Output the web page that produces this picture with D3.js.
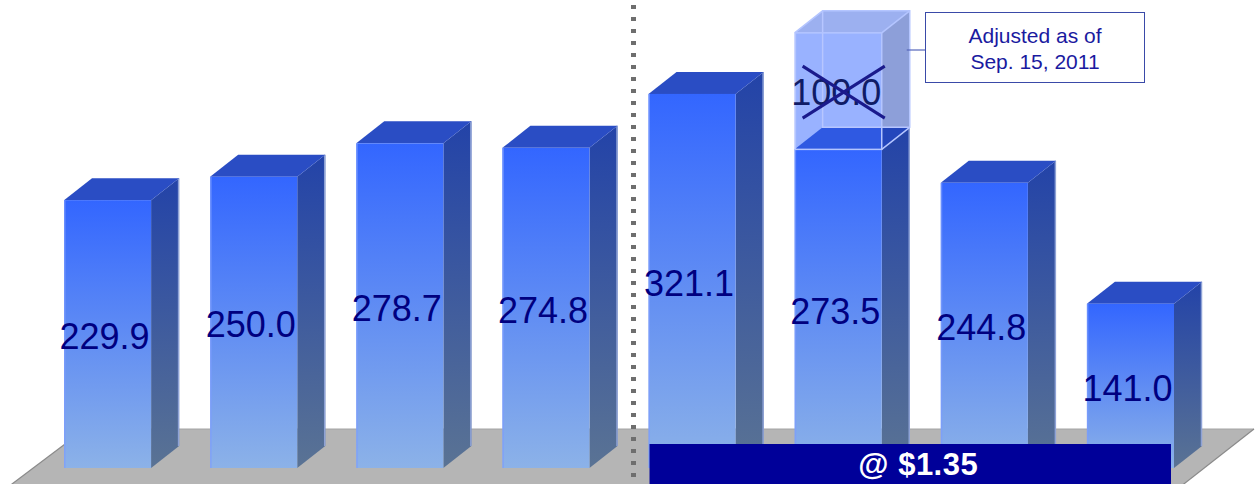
<!DOCTYPE html>
<html>
<head>
<meta charset="utf-8">
<script src="https://cdn.jsdelivr.net/npm/d3@7"></script>
<style>
  html, body { margin: 0; padding: 0; background: #ffffff; }
  svg { display: block; }
  text { font-family: "Liberation Sans", Arial, Helvetica, sans-serif; }
</style>
</head>
<body>
<svg id="chart" width="1256" height="484"></svg>
<script>
// Bar values (millions), one per period
const barKeys = ["b1", "b2", "b3", "b4", "b5", "b6", "b7", "b8"];
const values = [229.9, 250.0, 278.7, 274.8, 321.1, 273.5, 244.8, 141.0];

// Withdrawn amount stacked on top of one bar
const adjustedKey = "b6";
const adjustedValue = 100.0;
const noteLines = ["Adjusted as of", "Sep. 15, 2011"];

// Banner under the right-hand group of bars
const bannerKeys = ["b5", "b8"];
const bannerText = "@ $1.35";

// The dotted divider sits between these two bars
const dividerBetween = ["b4", "b5"];

const W = 1256, H = 484;
const baseY = 468;          // bottom of the bar front faces
const DX = 28, DY = 22;     // 3-D depth offset

const svg = d3.select("#chart");

const x = d3.scaleBand()
  .domain(barKeys)
  .range([64, 1174])
  .paddingInner(0.404)
  .paddingOuter(0);

const y = d3.scaleLinear()
  .domain([0, 400])
  .range([baseY, baseY - 466]);

const bw = x.bandwidth();
const pts = a => a.map(p => p.join(",")).join(" ");

// ---- gradients ----
const defs = svg.append("defs");
const gFront = defs.append("linearGradient").attr("id", "gFront")
  .attr("x1", 0).attr("y1", 0).attr("x2", 0).attr("y2", 1);
gFront.append("stop").attr("offset", 0).attr("stop-color", "#3366ff");
gFront.append("stop").attr("offset", 1).attr("stop-color", "#8cb2e8");

const gSide = defs.append("linearGradient").attr("id", "gSide")
  .attr("x1", 0).attr("y1", 0).attr("x2", 0).attr("y2", 1);
gSide.append("stop").attr("offset", 0).attr("stop-color", "#2343a8");
gSide.append("stop").attr("offset", 1).attr("stop-color", "#5a7394");

// ---- floor ----
svg.append("polygon")
  .attr("points", pts([[85, 429], [1254, 429], [1180, 487], [8, 487]]))
  .attr("fill", "#b5b5b5");
svg.append("line").attr("x1", 85).attr("y1", 429).attr("x2", 1254).attr("y2", 429)
  .attr("stroke", "#a4a4a4").attr("stroke-width", 1);
svg.append("line").attr("x1", 85).attr("y1", 429).attr("x2", 8).attr("y2", 487)
  .attr("stroke", "#8a8a8a").attr("stroke-width", 1.2);
svg.append("line").attr("x1", 1254).attr("y1", 429).attr("x2", 1180).attr("y2", 487)
  .attr("stroke", "#8a8a8a").attr("stroke-width", 1.2);

// ---- bars ----
const data = barKeys.map((k, i) => ({ key: k, value: values[i] }));

const bars = svg.append("g").selectAll("g").data(data).join("g");

bars.append("polygon")  // side face
  .attr("points", d => {
    const x1 = x(d.key) + bw, t = y(d.value);
    return pts([[x1, t], [x1 + DX, t - DY], [x1 + DX, baseY - DY], [x1, baseY]]);
  })
  .attr("fill", "url(#gSide)");

bars.append("line")     // light rim on the side face
  .attr("x1", d => x(d.key) + bw + DX - 0.5).attr("x2", d => x(d.key) + bw + DX - 0.5)
  .attr("y1", d => y(d.value) - DY).attr("y2", baseY - DY)
  .attr("stroke", "#8ea2d6").attr("stroke-width", 1.5);

bars.append("polygon")  // top face
  .attr("points", d => {
    const x0 = x(d.key), x1 = x0 + bw, t = y(d.value);
    return pts([[x0, t], [x0 + DX, t - DY], [x1 + DX, t - DY], [x1, t]]);
  })
  .attr("fill", "#2a4dc4");

bars.append("rect")     // front face
  .attr("x", d => x(d.key))
  .attr("y", d => y(d.value))
  .attr("width", bw)
  .attr("height", d => baseY - y(d.value))
  .attr("fill", "url(#gFront)");

bars.append("line")     // light left edge of the front face
  .attr("x1", d => x(d.key) + 0.75).attr("x2", d => x(d.key) + 0.75)
  .attr("y1", d => y(d.value)).attr("y2", baseY)
  .attr("stroke", "#7d9dff").attr("stroke-width", 1.5).attr("opacity", 0.7);

// ---- value labels, centred on each front face ----
bars.append("text")
  .attr("x", d => x(d.key) + bw / 2 - 3)
  .attr("y", d => (y(d.value) + baseY) / 2 + 15)
  .attr("text-anchor", "middle")
  .attr("font-size", 36)
  .attr("fill", "#000080")
  .text(d => d.value.toFixed(1));

// ---- withdrawn portion: see-through box on top of the bar ----
const gx0 = x(adjustedKey), gx1 = gx0 + bw;
const base6 = values[barKeys.indexOf(adjustedKey)];
const gTop = y(base6 + adjustedValue), gBot = y(base6);
const ghost = svg.append("g");

ghost.append("rect")
  .attr("x", gx0).attr("y", gTop).attr("width", bw).attr("height", gBot - gTop)
  .attr("fill", "#3366ff").attr("fill-opacity", 0.5);
ghost.append("polygon")
  .attr("points", pts([[gx1, gTop], [gx1 + DX, gTop - DY], [gx1 + DX, gBot - DY], [gx1, gBot]]))
  .attr("fill", "#1b3fb3").attr("fill-opacity", 0.5);
ghost.append("polygon")
  .attr("points", pts([[gx0, gTop], [gx0 + DX, gTop - DY], [gx1 + DX, gTop - DY], [gx1, gTop]]))
  .attr("fill", "#3961e1").attr("fill-opacity", 0.5);

// visible back edges of the box
ghost.append("polyline")
  .attr("points", pts([[gx0 + DX, gTop - DY], [gx0 + DX, gBot - DY], [gx1 + DX, gBot - DY]]))
  .attr("fill", "none").attr("stroke", "#b7c6ff").attr("stroke-width", 1.5);
// front edges
ghost.append("rect")
  .attr("x", gx0 + 0.75).attr("y", gTop).attr("width", bw - 0.75).attr("height", gBot - gTop)
  .attr("fill", "none").attr("stroke", "#b4c5ff").attr("stroke-width", 1.5);
ghost.append("polyline")
  .attr("points", pts([[gx0, gTop], [gx0 + DX, gTop - DY], [gx1 + DX, gTop - DY], [gx1 + DX, gBot - DY], [gx1, gBot]]))
  .attr("fill", "none").attr("stroke", "#b4c5ff").attr("stroke-width", 1.5);
ghost.append("line")
  .attr("x1", gx1).attr("y1", gTop).attr("x2", gx1 + DX).attr("y2", gTop - DY)
  .attr("stroke", "#b4c5ff").attr("stroke-width", 1.5);

const gMid = (gTop + gBot) / 2;
ghost.append("text")
  .attr("x", gx0 + bw / 2 - 2)
  .attr("y", gMid + 14)
  .attr("text-anchor", "middle")
  .attr("font-size", 36)
  .attr("fill", "#101c66")
  .text(adjustedValue.toFixed(1));

// cross-out
ghost.append("line")
  .attr("x1", gx0 + 8).attr("y1", gMid - 25).attr("x2", gx1 + 3).attr("y2", gMid + 27)
  .attr("stroke", "#1a1a8c").attr("stroke-width", 3);
ghost.append("line")
  .attr("x1", gx0 + 8).attr("y1", gMid + 27).attr("x2", gx1 + 3).attr("y2", gMid - 25)
  .attr("stroke", "#1a1a8c").attr("stroke-width", 3);

// ---- note box with connector ----
svg.append("line")
  .attr("x1", gx1 + DX - 3).attr("y1", 50).attr("x2", 925).attr("y2", 50)
  .attr("stroke", "#5566bb").attr("stroke-width", 1.2);
svg.append("rect")
  .attr("x", 925.5).attr("y", 12.5).attr("width", 219).attr("height", 70)
  .attr("fill", "#ffffff").attr("stroke", "#3a4aa8").attr("stroke-width", 1);
svg.append("g").selectAll("text").data(noteLines).join("text")
  .attr("x", 1035)
  .attr("y", (d, i) => 43 + i * 26)
  .attr("text-anchor", "middle")
  .attr("font-size", 21)
  .attr("fill", "#1a1aa0")
  .text(d => d);

// ---- banner ----
const bx0 = x(bannerKeys[0]) + 1, bx1 = x(bannerKeys[1]) + bw - 3;
svg.append("rect")
  .attr("x", bx0).attr("y", 444).attr("width", bx1 - bx0).attr("height", 45)
  .attr("fill", "#000099");
svg.append("text")
  .attr("x", (bx0 + bx1) / 2 + 8)
  .attr("y", 475)
  .attr("text-anchor", "middle")
  .attr("font-size", 31)
  .attr("font-weight", "bold")
  .attr("letter-spacing", 0.5)
  .attr("fill", "#ffffff")
  .text(bannerText);

// ---- dotted divider ----
const divX = (x(dividerBetween[0]) + bw + DX + x(dividerBetween[1])) / 2 + 0.5;
svg.append("line")
  .attr("x1", divX).attr("x2", divX)
  .attr("y1", 5).attr("y2", H)
  .attr("stroke", "#6e6e6e").attr("stroke-width", 5)
  .attr("stroke-dasharray", "4 8");
</script>
</body>
</html>
